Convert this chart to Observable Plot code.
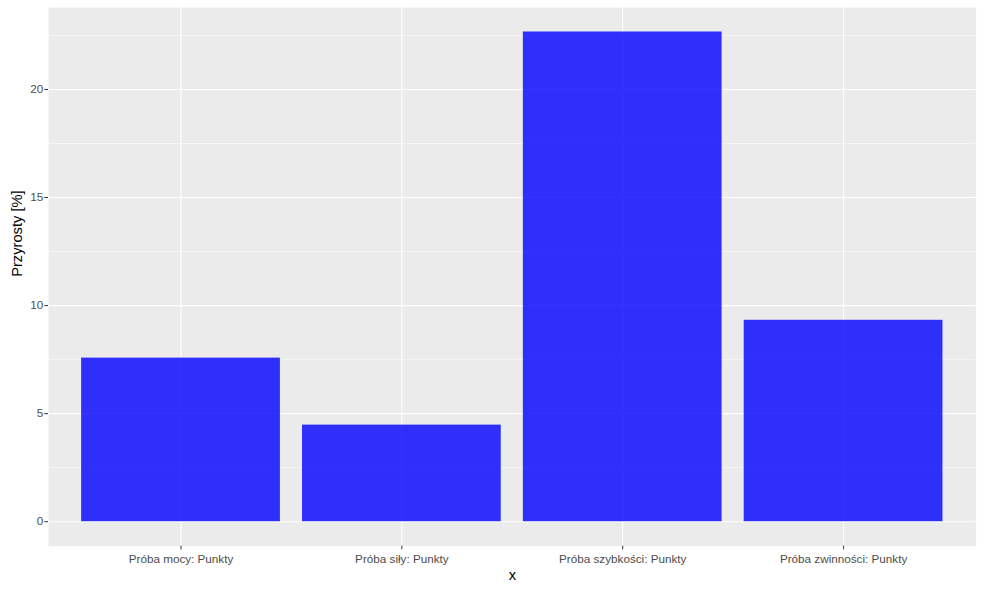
<!DOCTYPE html>
<html>
<head>
<meta charset="utf-8">
<script src="https://cdn.jsdelivr.net/npm/d3@7"></script>
<script src="https://cdn.jsdelivr.net/npm/@observablehq/plot@0.6"></script>
<style>
  html, body { margin: 0; padding: 0; background: white; }
</style>
</head>
<body>
<div id="chart"></div>
<script>
const categories = ["Próba mocy: Punkty", "Próba siły: Punkty", "Próba szybkości: Punkty", "Próba zwinności: Punkty"];
const values = [7.57, 4.47, 22.66, 9.32];
const yTicks = [0, 5, 10, 15, 20];
const yMinorTicks = [2.5, 7.5, 12.5, 17.5, 22.5];
const xTitle = "x";
const yTitle = "Przyrosty [%]";

const data = categories.map((c, i) => ({category: c, value: values[i]}));
const maxV = d3.max(values);
const pad = maxV * 0.05;

const chart = Plot.plot({
  width: 983,
  height: 590,
  marginLeft: 48,
  marginTop: 7,
  marginRight: 7.4,
  marginBottom: 44.3,
  style: {fontFamily: "'Liberation Sans', Arial, sans-serif", background: "white"},
  x: {domain: categories, paddingInner: 0.1, paddingOuter: 0.15, round: false, label: null},
  y: {domain: [-pad, maxV + pad], label: null},
  marks: [
    Plot.frame({fill: "#ebebeb", stroke: null}),
    Plot.ruleY(yMinorTicks, {stroke: "white", strokeWidth: 0.55}),
    Plot.ruleY(yTicks, {stroke: "white", strokeWidth: 1.1}),
    Plot.gridX({stroke: "white", strokeOpacity: 1, strokeWidth: 1.1}),
    Plot.barY(data, {x: "category", y: "value", fill: "blue", fillOpacity: 0.8}),
    Plot.axisY({ticks: yTicks, text: null, tickSize: 3.7, stroke: "#333333", label: null}),
    Plot.axisY({ticks: yTicks, tickSize: 0, tickPadding: 5.3, fill: "#4d4d4d", fontSize: 11.7, label: null}),
    Plot.axisX({text: null, tickSize: 3.7, stroke: "#333333", label: null}),
    Plot.axisX({tickSize: 0, tickPadding: 8.7, fill: "#4d4d4d", fontSize: 11.7, label: null}),
    Plot.text([xTitle], {frameAnchor: "bottom", dy: 28.6, lineAnchor: "middle", fontSize: 14.7, fill: "black"}),
    Plot.text([yTitle], {frameAnchor: "left", dx: -31.7, rotate: -90, lineAnchor: "middle", fontSize: 14.7, fill: "black"})
  ]
});
document.getElementById("chart").appendChild(chart);
</script>
</body>
</html>
